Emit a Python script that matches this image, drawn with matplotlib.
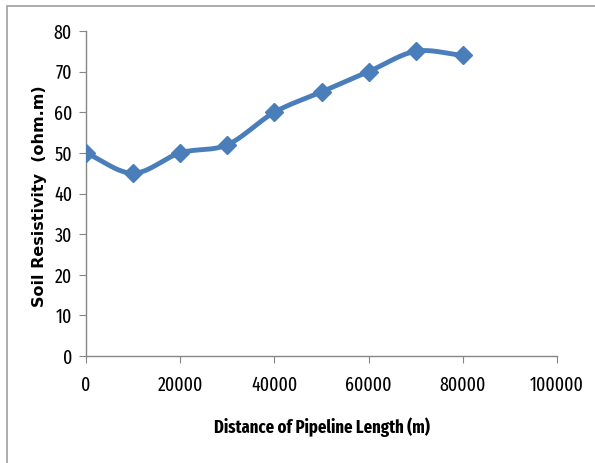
import numpy as np
import matplotlib
matplotlib.use("Agg")
from matplotlib import pyplot as plt
from matplotlib.patches import Rectangle

distance = [0, 10000, 20000, 30000, 40000, 50000, 60000, 70000, 80000]
resistivity = [50, 45, 50, 52, 60, 65, 70, 75, 74]
x_ticks = [0, 20000, 40000, 60000, 80000, 100000]
y_ticks = [0, 10, 20, 30, 40, 50, 60, 70, 80]


def smooth(xs, ys, n=30):
    # catmull-rom style smoothing like the spreadsheet "smoothed line"
    xs = np.asarray(xs, float); ys = np.asarray(ys, float)
    px = np.concatenate([[2*xs[0]-xs[1]], xs, [2*xs[-1]-xs[-2]]])
    py = np.concatenate([[2*ys[0]-ys[1]], ys, [2*ys[-1]-ys[-2]]])
    ox, oy = [], []
    t = np.linspace(0, 1, n)
    for i in range(1, len(px)-2):
        for p, o in ((px, ox), (py, oy)):
            p0, p1, p2, p3 = p[i-1], p[i], p[i+1], p[i+2]
            o.extend(0.5*((2*p1) + (-p0+p2)*t + (2*p0-5*p1+4*p2-p3)*t**2 + (-p0+3*p1-3*p2+p3)*t**3))
    return np.array(ox), np.array(oy)


narrow = 'Fira Sans Extra Condensed'

fig = plt.figure(figsize=(5.95, 4.63), dpi=100)
ax = fig.add_axes([86/595, 1-356/463, (557-86)/595, (356-31)/463])

blue = '#4a7ebb'
sx, sy = smooth(distance, resistivity)
ax.plot(sx, sy, color=blue, lw=3.5, solid_capstyle='round', zorder=2)
ax.plot(distance, resistivity, ls='none', marker='D', ms=9.5, color=blue, zorder=3)

ax.set_xlim(0, 100000)
ax.set_ylim(0, 80)
ax.set_xticks(x_ticks)
ax.set_yticks(y_ticks)
ax.set_xticklabels([str(v) for v in x_ticks])
ax.set_yticklabels([str(v) for v in y_ticks])

for s in ['top', 'right']:
    ax.spines[s].set_visible(False)
for s in ['left', 'bottom']:
    ax.spines[s].set_color('#868686')
    ax.spines[s].set_linewidth(1)
ax.tick_params(direction='out', length=5, color='#868686', labelsize=14)
ax.tick_params(axis='x', pad=9)
ax.tick_params(axis='y', pad=5)
for lab in ax.get_xticklabels() + ax.get_yticklabels():
    lab.set_family(narrow)

ax.set_xlabel('Distance of Pipeline Length (m)', fontsize=13, fontweight='bold', family=narrow)
ax.xaxis.set_label_coords(0.5, -0.19)
ax.set_ylabel('Soil Resistivity  (ohm.m)', fontsize=11.5, fontweight='bold', family='DejaVu Sans')
ax.yaxis.set_label_coords(-0.083, 0.492)

fig.patches.append(Rectangle((7/595, -0.1), 1.2, 1-6/463+0.1, transform=fig.transFigure,
                             fill=False, edgecolor='#a0a0a0', lw=1.2))

fig.savefig('out.png', dpi=100)
